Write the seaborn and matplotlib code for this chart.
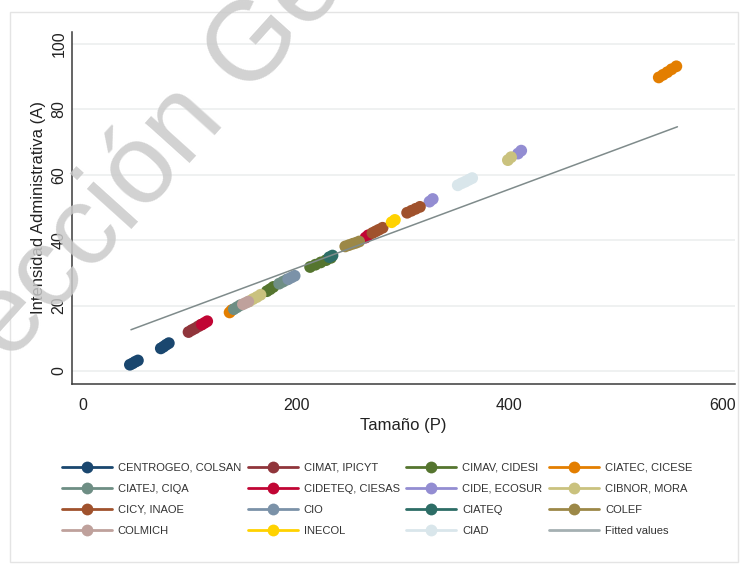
import numpy as np
import pandas as pd
import seaborn as sns
import matplotlib.pyplot as plt
from matplotlib.lines import Line2D
from matplotlib.patches import Rectangle

# series (Stata s2color order), one list of x (Tamaño) and y (Intensidad) each
series = ["CENTROGEO, COLSAN", "CIMAT, IPICYT", "CIMAV, CIDESI", "CIATEC, CICESE",
          "CIATEJ, CIQA", "CIDETEQ, CIESAS", "CIDE, ECOSUR", "CIBNOR, MORA",
          "CICY, INAOE", "CIO", "CIATEQ", "COLEF",
          "COLMICH", "INECOL", "CIAD"]
colors = ["#1a476f", "#90353b", "#55752f", "#e37e00",
          "#6e8e84", "#c10534", "#938dd2", "#cac27e",
          "#a0522d", "#7b92a8", "#2d6d66", "#9c8847",
          "#bfa19c", "#ffd200", "#d9e6eb"]

x_vals = [
    [44, 46.5, 49, 51.5, 73, 75.5, 78, 80.5],
    [99, 102, 105, 108, 110.5],
    [172.5, 175.5, 178.5, 213, 218, 223, 228, 232.5],
    [137.5, 139.5, 540, 544, 548, 552, 556.5],
    [141.5, 144.5, 147.5, 184, 187.5, 191],
    [111.5, 114, 116.5, 265, 267.5],
    [325, 328, 408, 411],
    [156, 159.5, 163, 166.5, 398.5, 401.5],
    [271.5, 274.5, 277.5, 281, 304, 308, 312, 316],
    [192.5, 195.5, 198.5],
    [231, 234],
    [246, 249.5, 253, 256, 259],
    [150, 152.5, 155],
    [289.5, 292.5],
    [351.5, 355, 358.5, 362, 365],
]
y_vals = [
    [1.9, 2.3, 2.8, 3.2, 6.9, 7.4, 8.0, 8.5],
    [11.9, 12.5, 13.0, 13.6, 14.1],
    [24.4, 25.0, 25.7, 31.8, 32.5, 33.2, 33.9, 34.6],
    [17.9, 18.6, 89.8, 90.6, 91.4, 92.3, 93.2],
    [18.9, 19.5, 20.1, 26.7, 27.3, 27.9],
    [14.2, 14.7, 15.2, 40.8, 41.5],
    [51.8, 52.6, 66.5, 67.4],
    [21.3, 22.0, 22.6, 23.3, 64.5, 65.4],
    [42.2, 42.7, 43.2, 43.8, 48.4, 49.0, 49.6, 50.2],
    [28.1, 28.6, 29.1],
    [34.8, 35.3],
    [38.1, 38.5, 38.9, 39.2, 39.6],
    [20.4, 20.8, 21.2],
    [45.5, 46.2],
    [56.8, 57.4, 57.9, 58.5, 59.0],
]

# linear fit (Fitted values)
fit_x = [45, 557.5]
fit_y = [12.6, 74.7]

rows = []
for name, xs, ys in zip(series, x_vals, y_vals):
    for a, b in zip(xs, ys):
        rows.append({"P": a, "A": b, "grupo": name})
df = pd.DataFrame(rows)
fit = pd.DataFrame({"P": fit_x, "A": fit_y})

sns.set_style("white")
plt.rcParams["font.family"] = ["Liberation Sans", "DejaVu Sans"]

fig = plt.figure(figsize=(7.4, 5.69), dpi=100)
fig.patches.append(Rectangle((10 / 740, 1 - 562 / 569), 728 / 740, 550 / 569,
                             transform=fig.transFigure, fill=False,
                             edgecolor="#e4e4e4", lw=1))
ax = fig.add_axes([72 / 740, 185 / 569, 663 / 740, 352 / 569])

pal = dict(zip(series, colors))
sns.scatterplot(data=df, x="P", y="A", hue="grupo", palette=pal, hue_order=series,
                s=72, edgecolor="none", legend=False, ax=ax, zorder=3)
sns.lineplot(data=fit, x="P", y="A", color="#7f8b8b", lw=1.1, ax=ax, zorder=4)

ax.set_xlim(-10.3, 611.5)
ax.set_ylim(-4.0, 103.7)
ax.set_xticks([0, 200, 400, 600])
ax.set_yticks([0, 20, 40, 60, 80, 100])
ax.set_yticklabels(["0", "20", "40", "60", "80", "100"], rotation=90, va="center")
for yv in [0, 20, 40, 60, 80, 100]:
    ax.axhline(yv, color="#ebeeee", lw=1.1, zorder=0)
for s in ["top", "right"]:
    ax.spines[s].set_visible(False)
for s in ["left", "bottom"]:
    ax.spines[s].set_color("#3a3a3a")
    ax.spines[s].set_linewidth(1.1)
ax.tick_params(direction="out", length=5, width=1, color="#3a3a3a",
               labelsize=11.5, labelcolor="#222222")
ax.tick_params(axis="x", pad=5)
ax.tick_params(axis="y", pad=-1)
ax.set_xlabel("Tamaño (P)", fontsize=12, color="#222222", labelpad=4)
ax.set_ylabel("Intensidad Administrativa (A)", fontsize=12, color="#222222", labelpad=4)

# legend, Stata style (row-major, 4 columns)
handles = [Line2D([], [], color=c, lw=2, marker="o", markersize=8.5,
                  markeredgecolor="none") for c in colors]
handles.append(Line2D([], [], color="#a5b0b2", lw=2))
labels = series + ["Fitted values"]
order = [r * 4 + c for c in range(4) for r in range(4)]
fig.legend([handles[i] for i in order], [labels[i] for i in order],
           ncol=4, loc="upper left", bbox_to_anchor=(56 / 740, 1 - 457 / 569),
           frameon=False, fontsize=8, handlelength=4.5, handletextpad=0.55,
           columnspacing=0.6, labelspacing=1.0, borderpad=0,
           labelcolor="#333333")

# watermark
fig.text(-0.1176, 0.174, "Dirección General", fontsize=81, rotation=48,
         rotation_mode="anchor", ha="left", va="baseline", color="#cacaca",
         alpha=0.85, zorder=10)

fig.savefig("out.png", dpi=100)
